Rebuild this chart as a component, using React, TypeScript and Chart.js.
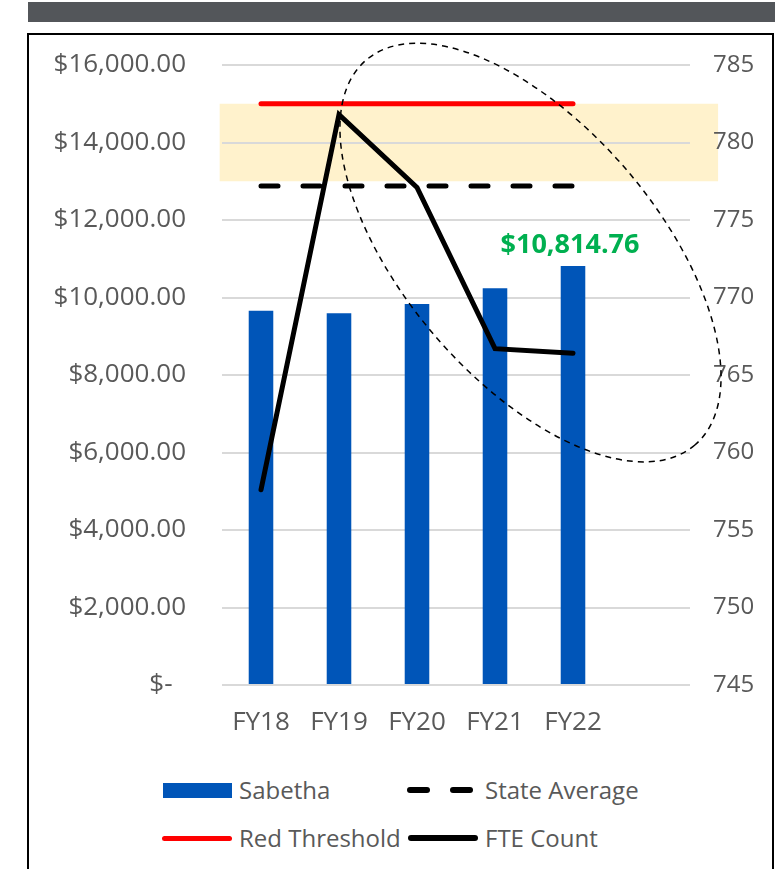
import React, { useEffect, useRef } from "react";
import { Chart, registerables } from "chart.js";

Chart.register(...registerables);

const categories = ["FY18", "FY19", "FY20", "FY21", "FY22", ""];
const sabetha = [9659, 9592, 9832, 10237, 10814.76, null];
const stateAverage = [12880, 12880, 12880, 12880, 12880, null];
const redThreshold = [15000, 15000, 15000, 15000, 15000, null];
const fteCount = [757.6, 781.8, 777.1, 766.7, 766.4, null];

const leftMin = 0;
const leftMax = 16000;
const leftStep = 2000;
const rightMin = 745;
const rightMax = 785;
const rightStep = 5;

const bandLow = 13000;
const bandHigh = 15000;
const labelValueIndex = 4;

const FONT = "'Open Sans', 'DejaVu Sans', sans-serif";
const TEXT = "#595959";
const BLUE = "#0055B8";
const CLEAR = "rgba(0,0,0,0)";

const fmtMoney = (v: number) =>
  v === 0
    ? "$-  "
    : "$" + v.toLocaleString("en-US", { minimumFractionDigits: 2, maximumFractionDigits: 2 });

const decorPlugin = {
  id: "decor",
  beforeDraw(chart: any) {
    const { ctx, scales } = chart;
    const x = scales.x;
    const y = scales.y;
    const cw = x.getPixelForValue(1) - x.getPixelForValue(0);
    const left = x.getPixelForValue(0) - cw * 0.53;
    const right = x.getPixelForValue(5) + cw * 0.86;
    const top = y.getPixelForValue(bandHigh);
    const bottom = y.getPixelForValue(bandLow);
    ctx.save();
    ctx.fillStyle = "#FFF2CC";
    ctx.fillRect(left, top, right - left, bottom - top);
    ctx.restore();
  },
  afterDatasetsDraw(chart: any) {
    const { ctx, scales } = chart;
    const x = scales.x;
    const y = scales.y;
    const cw = x.getPixelForValue(1) - x.getPixelForValue(0);
    const meta = chart.getDatasetMeta(0);
    const bar = meta.data[labelValueIndex];
    if (bar) {
      ctx.save();
      ctx.font = `bold 27px ${FONT}`;
      ctx.fillStyle = "#00B050";
      ctx.textAlign = "center";
      ctx.textBaseline = "alphabetic";
      ctx.fillText(fmtMoney(sabetha[labelValueIndex] as number), bar.x - 3, bar.y - 13);
      ctx.restore();
    }
    const cx = x.getPixelForValue(3.455);
    const cy = y.getPixelForValue(11160);
    ctx.save();
    ctx.strokeStyle = "#000";
    ctx.lineWidth = 1.5;
    ctx.setLineDash([6, 5]);
    ctx.beginPath();
    ctx.ellipse(cx, cy, cw * 3.245, cw * 1.625, (49.5 * Math.PI) / 180, 0, Math.PI * 2);
    ctx.stroke();
    ctx.restore();
  },
};

function App() {
  const ref = useRef<HTMLCanvasElement>(null);
  useEffect(() => {
    if (!ref.current) return;
    const chart = new Chart(ref.current, {
      type: "bar",
      data: {
        labels: categories,
        datasets: [
          {
            type: "bar",
            label: "Sabetha",
            data: sabetha,
            backgroundColor: BLUE,
            barPercentage: 0.315,
            categoryPercentage: 1,
            yAxisID: "y",
            order: 4,
          },
          {
            type: "line",
            label: "State Average",
            data: stateAverage,
            borderColor: "#000",
            borderWidth: 5,
            borderDash: [17, 25],
            borderCapStyle: "round",
            pointRadius: 0,
            tension: 0,
            yAxisID: "y",
            order: 3,
          },
          {
            type: "line",
            label: "Red Threshold",
            data: redThreshold,
            borderColor: "#FF0000",
            borderWidth: 5,
            borderCapStyle: "round",
            pointRadius: 0,
            tension: 0,
            yAxisID: "y",
            order: 2,
          },
          {
            type: "line",
            label: "FTE Count",
            data: fteCount,
            borderColor: "#000",
            borderWidth: 5,
            borderCapStyle: "round",
            borderJoinStyle: "miter",
            pointRadius: 0,
            tension: 0,
            yAxisID: "y1",
            order: 1,
          },
        ],
      } as any,
      options: {
        animation: false,
        responsive: false,
        layout: { padding: { top: 30, left: 0, right: 0, bottom: 0 } },
        plugins: { legend: { display: false }, tooltip: { enabled: false } },
        scales: {
          x: {
            grid: { display: false, drawTicks: false },
            border: { display: false },
            ticks: { color: TEXT, font: { family: FONT, size: 26 }, padding: 22, maxRotation: 0 },
            afterFit: (s: any) => {
              s.height = 70;
            },
          },
          y: {
            position: "left",
            min: leftMin,
            max: leftMax,
            grid: { color: "#D9D9D9", lineWidth: 2, drawTicks: true, tickLength: 36, tickColor: CLEAR },
            border: { display: false },
            ticks: {
              stepSize: leftStep,
              color: TEXT,
              font: { family: FONT, size: 26 },
              padding: 0,
              callback: (v: any) => fmtMoney(Number(v)),
            },
            afterFit: (s: any) => {
              s.width = 193;
            },
          },
          y1: {
            position: "right",
            min: rightMin,
            max: rightMax,
            grid: { display: true, color: CLEAR, drawTicks: true, tickLength: 23, tickColor: CLEAR, drawOnChartArea: false },
            border: { display: false },
            ticks: {
              stepSize: rightStep,
              color: TEXT,
              font: { family: FONT, size: 24 },
              padding: 0,
            },
            afterFit: (s: any) => {
              s.width = 82;
            },
          },
        },
      } as any,
      plugins: [decorPlugin],
    });
    return () => chart.destroy();
  }, []);

  const txt = (left: number, cy: number, s: string) => (
    <div
      style={{
        position: "absolute",
        left,
        top: cy - 16,
        height: 32,
        lineHeight: "32px",
        fontFamily: FONT,
        fontSize: 24,
        color: TEXT,
        whiteSpace: "nowrap",
      }}
    >
      {s}
    </div>
  );
  const line = (left: number, width: number, cy: number, color: string, h: number) => (
    <div
      style={{
        position: "absolute",
        left,
        top: cy - h / 2,
        width,
        height: h,
        background: color,
        borderRadius: h / 2,
      }}
    />
  );

  return (
    <div
      style={{
        position: "absolute",
        left: 0,
        top: 0,
        width: 782,
        height: 869,
        overflow: "hidden",
        background: "#fff",
      }}
    >
      <div style={{ position: "absolute", left: 28, top: 2, width: 747, height: 20, background: "#53565A" }} />
      <div
        style={{
          position: "absolute",
          left: 27,
          top: 33,
          width: 743,
          height: 900,
          border: "2px solid #000",
        }}
      />
      <canvas
        ref={ref}
        width={743}
        height={720}
        style={{ position: "absolute", left: 29, top: 35, width: 743, height: 720 }}
      />
      <div style={{ position: "absolute", left: 163, top: 783, width: 69, height: 15, background: BLUE }} />
      {txt(239, 790, "Sabetha")}
      {line(407, 23, 790, "#000", 6)}
      {line(450, 23, 790, "#000", 6)}
      {txt(485, 790, "State Average")}
      {line(162, 70, 838, "#FF0000", 5)}
      {txt(239, 838, "Red Threshold")}
      {line(408, 70, 838, "#000", 6)}
      {txt(485, 838, "FTE Count")}
    </div>
  );
}

export default App;
